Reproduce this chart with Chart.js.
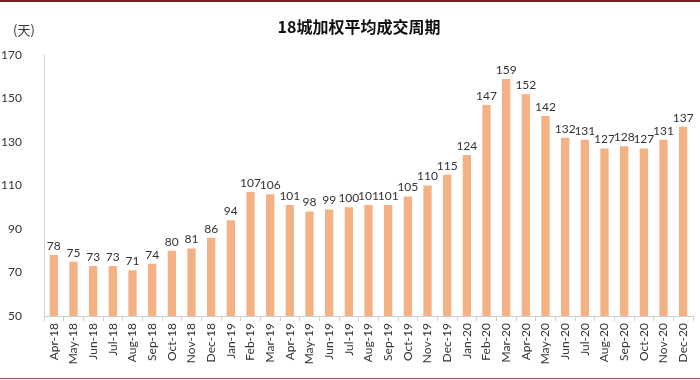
<!DOCTYPE html>
<html>
<head>
<meta charset="utf-8">
<script src="https://cdn.jsdelivr.net/npm/chart.js@4"></script>
<style>
  html, body { margin: 0; padding: 0; background: #fff; }
  #wrap { position: relative; width: 700px; height: 380px; }
  #topLine { position: absolute; left: 0; top: 0; width: 700px; height: 2px; background: #7a1f1f; }
  #bottomLine { position: absolute; left: 0; top: 378px; width: 700px; height: 1px; background: #a05050; }
</style>
</head>
<body>
<div id="wrap">
  <canvas id="chart" width="700" height="380"></canvas>
  <div id="topLine"></div>
  <div id="bottomLine"></div>
</div>
<script>
const months = [
  "Apr-18", "May-18", "Jun-18", "Jul-18", "Aug-18", "Sep-18", "Oct-18", "Nov-18", "Dec-18",
  "Jan-19", "Feb-19", "Mar-19", "Apr-19", "May-19", "Jun-19", "Jul-19", "Aug-19", "Sep-19",
  "Oct-19", "Nov-19", "Dec-19", "Jan-20", "Feb-20", "Mar-20", "Apr-20", "May-20", "Jun-20",
  "Jul-20", "Aug-20", "Sep-20", "Oct-20", "Nov-20", "Dec-20",
];

const cycleDays = [
  78, 75, 73, 73, 71, 74, 80, 81, 86,
  94, 107, 106, 101, 98, 99, 100, 101, 101,
  105, 110, 115, 124, 147, 159, 152, 142, 132,
  131, 127, 128, 127, 131, 137,
];

const Y_MIN = 50;
const Y_MAX = 170;
const Y_STEP = 20;

const TITLE = "18城加权平均成交周期";
const UNIT = "(天)";

const labelFont = "Lato, 'Liberation Sans', sans-serif";

// value labels above bars + title and unit text
const textPlugin = {
  id: "textPlugin",
  afterDatasetsDraw(chart) {
    const ctx = chart.ctx;
    const meta = chart.getDatasetMeta(0);
    ctx.save();
    ctx.fillStyle = "#333";
    ctx.font = "12px " + labelFont;
    ctx.textAlign = "center";
    ctx.textBaseline = "bottom";
    meta.data.forEach((bar, i) => {
      ctx.fillText(cycleDays[i], bar.x, bar.y - 3);
    });

    ctx.font = "bold 16px 'Noto Sans CJK SC', sans-serif";
    ctx.textBaseline = "middle";
    ctx.fillStyle = "#111";
    ctx.fillText(TITLE, 359, 27);

    ctx.font = "13px 'Noto Sans CJK SC', sans-serif";
    ctx.textAlign = "left";
    ctx.fillStyle = "#333";
    ctx.fillText(UNIT, 13, 30);
    ctx.restore();
  },
};

new Chart(document.getElementById("chart"), {
  type: "bar",
  data: {
    labels: months,
    datasets: [
      {
        data: cycleDays,
        backgroundColor: "#f4b183",
        barPercentage: 0.42,
        categoryPercentage: 1,
      },
    ],
  },
  options: {
    responsive: false,
    animation: false,
    layout: { padding: { top: 55, right: 7, left: 0, bottom: 0 } },
    plugins: {
      legend: { display: false },
      tooltip: { enabled: false },
    },
    scales: {
      x: {
        offset: true,
        grid: {
          offset: true,
          drawOnChartArea: false,
          tickLength: 5,
          color: "#d0d0d0",
        },
        border: { color: "#d0d0d0" },
        ticks: {
          minRotation: 90,
          maxRotation: 90,
          autoSkip: false,
          padding: 2,
          color: "#333",
          font: { family: labelFont, size: 12 },
        },
        afterFit(scale) {
          scale.height = 64;
        },
      },
      y: {
        min: Y_MIN,
        max: Y_MAX,
        ticks: {
          stepSize: Y_STEP,
          padding: 14,
          color: "#333",
          font: { family: labelFont, size: 12 },
        },
        grid: { display: false },
        border: { color: "#d0d0d0" },
        afterFit(scale) {
          scale.width = 44;
        },
      },
    },
  },
  plugins: [textPlugin],
});
</script>
</body>
</html>
